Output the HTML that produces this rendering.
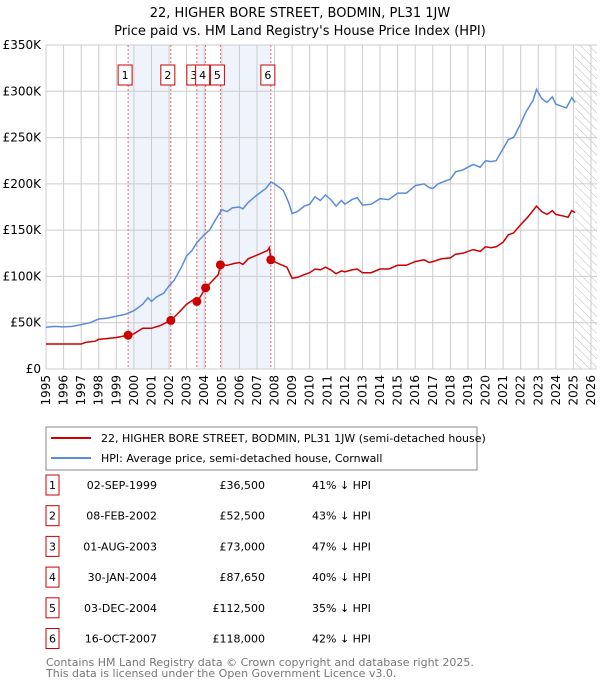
<!DOCTYPE html>
<html><head><meta charset="utf-8"><style>
body{margin:0;background:#fff;font-family:"Liberation Sans","DejaVu Sans",sans-serif}
svg text{font-family:"DejaVu Sans","Liberation Sans",sans-serif}
</style></head><body>
<svg id="c" width="600" height="680" viewBox="0 0 600 680" xmlns="http://www.w3.org/2000/svg">
<text x="300" y="17" text-anchor="middle" font-size="13">22, HIGHER BORE STREET, BODMIN, PL31 1JW</text>
<text x="300" y="35" text-anchor="middle" font-size="13">Price paid vs. HM Land Registry's House Price Index (HPI)</text>
<g id="plot"></g>
<g id="legend">
<rect x="46" y="427" width="431" height="43" fill="#fff" stroke="#888"/>
<line x1="51" y1="438" x2="91" y2="438" stroke="#cc0000" stroke-width="2"/>
<text x="101" y="442" font-size="11">22, HIGHER BORE STREET, BODMIN, PL31 1JW (semi-detached house)</text>
<line x1="51" y1="458" x2="91" y2="458" stroke="#5b8dd6" stroke-width="2"/>
<text x="101" y="462" font-size="11">HPI: Average price, semi-detached house, Cornwall</text>
</g>
<g id="table"></g>
<text x="46" y="666" font-size="11" fill="#777">Contains HM Land Registry data © Crown copyright and database right 2025.</text>
<text x="46" y="677" font-size="11" fill="#777">This data is licensed under the Open Government Licence v3.0.</text>
</svg>
<script>
const hpiYears=[1995,1995.5,1996,1996.5,1997,1997.5,1998,1998.5,1999,1999.5,2000,2000.5,2000.8,2001,2001.3,2001.7,2002,2002.3,2002.7,2003,2003.3,2003.6,2004,2004.3,2004.7,2005,2005.3,2005.6,2006,2006.2,2006.5,2007,2007.5,2007.8,2008,2008.5,2008.8,2009,2009.3,2009.7,2010,2010.3,2010.6,2010.9,2011.2,2011.5,2011.8,2012,2012.4,2012.7,2013,2013.5,2014,2014.5,2015,2015.5,2016,2016.5,2016.8,2017,2017.3,2017.7,2018,2018.3,2018.7,2019,2019.3,2019.7,2020,2020.3,2020.6,2021,2021.3,2021.6,2022,2022.3,2022.7,2022.9,2023.2,2023.5,2023.8,2024,2024.3,2024.6,2024.9,2025.1];
const hpiValues=[45,46,45.5,46,48,50,54,55,57,59,63,70,77,73,78,82,90,96,110,122,128,137,145,150,163,172,170,174,175,173,180,188,195,202,200,193,180,168,170,176,178,186,182,188,183,176,182,178,183,185,177,178,184,183,190,190,198,200,196,195,200,203,205,213,215,218,221,218,225,224,225,238,248,250,265,278,290,302,292,288,294,286,284,282,293,288];
const propYears=[1995,1997,1997.3,1997.8,1998,1998.5,1999,1999.67,2000,2000.5,2001,2001.5,2002.1,2002.5,2003,2003.4,2003.58,2003.65,2004.08,2004.5,2004.8,2004.92,2005.3,2005.7,2006,2006.2,2006.5,2007,2007.6,2007.7,2007.79,2008.2,2008.7,2009,2009.3,2009.7,2010,2010.3,2010.6,2010.9,2011.2,2011.5,2011.8,2012,2012.4,2012.7,2013,2013.5,2014,2014.5,2015,2015.5,2016,2016.5,2016.8,2017,2017.5,2018,2018.3,2018.7,2019,2019.3,2019.7,2020,2020.3,2020.6,2021,2021.3,2021.6,2022,2022.4,2022.9,2023.2,2023.5,2023.8,2024,2024.5,2024.7,2024.9,2025.1];
const propValues=[27,27,29,30,32,33,34,36.5,38,44,44,47,52.5,60,70,75,73,74,87.65,96,102,112.5,112,114,115,113,119,123,128,131,118,114,110,98,99,102,104,108,107,110,107,103,106,105,107,108,104,104,108,108,112,112,116,118,115,116,119,120,124,125,127,129,127,132,131,132,137,145,147,156,164,176,170,167,171,167,165,164,171,169];
const saleLabels=["1","2","3","4","5","6"];
const saleYears=[1999.67,2002.1,2003.58,2004.08,2004.92,2007.79];
const saleValues=[36.5,52.5,73,87.65,112.5,118];
const saleDates=["02-SEP-1999","08-FEB-2002","01-AUG-2003","30-JAN-2004","03-DEC-2004","16-OCT-2007"];
const salePrices=["£36,500","£52,500","£73,000","£87,650","£112,500","£118,000"];
const saleDiffs=["41% ↓ HPI","43% ↓ HPI","47% ↓ HPI","40% ↓ HPI","35% ↓ HPI","42% ↓ HPI"];
const yTicks=[0,50,100,150,200,250,300,350];
const yTickLabels=["£0","£50K","£100K","£150K","£200K","£250K","£300K","£350K"];
const xTicks=[1995,1996,1997,1998,1999,2000,2001,2002,2003,2004,2005,2006,2007,2008,2009,2010,2011,2012,2013,2014,2015,2016,2017,2018,2019,2020,2021,2022,2023,2024,2025,2026];
const forecastStart=2025.1;

const NS="http://www.w3.org/2000/svg";
const X0=46,X1=591,Y0=369,Y1=45;
const sx=y=>X0+(y-1995)/(2026-1995)*(X1-X0);
const sy=v=>Y0-v/350*(Y0-Y1);
const plot=document.getElementById('plot');
function mk(tag,attrs,parent){const e=document.createElementNS(NS,tag);for(const k in attrs)e.setAttribute(k,attrs[k]);(parent||plot).appendChild(e);return e;}

[[0,1],[2,3],[4,5]].forEach(([a,b])=>{
 const r=mk('rect',{x:sx(saleYears[a]),y:Y1,width:sx(saleYears[b])-sx(saleYears[a]),height:Y0-Y1,fill:'#eef3fc'});
 
 
});
const defs=mk('defs',{});
const pat=mk('pattern',{id:'h',width:6,height:6,patternUnits:'userSpaceOnUse',patternTransform:'rotate(-45)'},defs);
mk('line',{x1:0,y1:0,x2:0,y2:6,stroke:'#bbb','stroke-width':1},pat);
const hr=mk('rect',{x:sx(forecastStart),y:Y1,width:X1-sx(forecastStart)+6,height:Y0-Y1,fill:'url(#h)'});


xTicks.forEach((t,i)=>{
 const l=mk('line',{x1:sx(t),y1:Y1,x2:sx(t),y2:Y0,stroke:'#ccc','stroke-width':1});
 
 
 const tx=mk('text',{x:0,y:0,'font-size':12,'text-anchor':'end',transform:`translate(${sx(t)+4},${Y0+6}) rotate(-90)`});
 tx.textContent=t;
 
 
});
yTicks.forEach((t,i)=>{
 const l=mk('line',{x1:X0,y1:sy(t),x2:X1+6,y2:sy(t),stroke:'#ccc','stroke-width':1});
 
 
 const tx=mk('text',{x:X0-5,y:sy(t)+4,'font-size':12,'text-anchor':'end'});
 tx.textContent=yTickLabels[i];
 
 
});
saleYears.forEach((y)=>{
 const l=mk('line',{x1:sx(y),y1:Y1,x2:sx(y),y2:Y0,stroke:'#e66','stroke-width':1,'stroke-dasharray':'2,2'});
 
 
});
function path(xs,vs){return xs.map((x,i)=>(i?'L':'M')+sx(x).toFixed(1)+','+sy(vs[i]).toFixed(1)).join('');}
const hp=mk('path',{d:path(hpiYears,hpiValues),fill:'none',stroke:'#5b8dd6','stroke-width':1.5});


const pp=mk('path',{d:path(propYears,propValues),fill:'none',stroke:'#cc0000','stroke-width':1.5});


saleYears.forEach((y,i)=>{
 const c=mk('circle',{cx:sx(y),cy:sy(saleValues[i]),r:4.5,fill:'#cc0000'});
 
 
});
saleYears.forEach((y,i)=>{
 const g=mk('g',{});
 
 
 const cx=sx(y)-3;
 mk('rect',{x:cx-7,y:65,width:14,height:20,fill:'#fff',stroke:'#cc0000'},g);
 const t=mk('text',{x:cx,y:79,'font-size':11,'text-anchor':'middle'},g);t.textContent=saleLabels[i];
});
const tb=document.getElementById('table');
saleLabels.forEach((lab,i)=>{
 const y=485+i*30.7;
 const g=mk('g',{},tb);
 
 
 mk('rect',{x:46,y:y-10,width:13,height:20,fill:'#fff',stroke:'#cc0000'},g);
 const a=mk('text',{x:52.5,y:y+4,'font-size':11,'text-anchor':'middle'},g);a.textContent=lab;
 const b=mk('text',{x:157,y:y+4,'font-size':11,'text-anchor':'end'},g);b.textContent=saleDates[i];
 const c=mk('text',{x:265,y:y+4,'font-size':11,'text-anchor':'end'},g);c.textContent=salePrices[i];
 const d=mk('text',{x:312,y:y+4,'font-size':11},g);d.textContent=saleDiffs[i];
});
</script>
</body></html>
